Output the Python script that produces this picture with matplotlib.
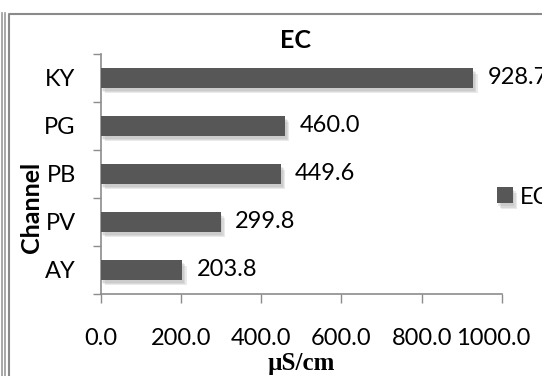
import matplotlib.pyplot as plt
import matplotlib.patheffects as pe
import matplotlib.transforms as mtransforms
from matplotlib.lines import Line2D
import numpy as np

plt.rcParams['font.family'] = ['Lato', 'DejaVu Sans']

channels = ['AY', 'PV', 'PB', 'PG', 'KY']
ec = [203.8, 299.8, 449.6, 460.0, 928.7]
xticks = [0, 200, 400, 600, 800, 1000]

W, H = 542, 376
fig = plt.figure(figsize=(W / 100, H / 100), dpi=100)
ax = fig.add_axes([100.7 / W, 1 - 294 / H, (502 - 100.7) / W, (294 - 54) / H])

y = np.arange(len(channels))
bars = ax.barh(y, ec, height=0.41, color='#575757', zorder=3)
# soft drop shadow under each bar
shadow = [pe.SimplePatchShadow(offset=(d, -d - 1), shadow_rgbFace='#a0a0a0', alpha=0.22)
          for d in (3, 2, 1)]
for b in bars:
    b.set_path_effects(shadow + [pe.Normal()])

for yi, v in zip(y, ec):
    ax.annotate(f'{v:.1f}', (v, yi), xytext=(14, 0), textcoords='offset pixels',
                ha='left', va='center', fontsize=17, color='black', annotation_clip=False)

ax.set_xlim(0, 1000)
ax.set_ylim(-0.5, len(channels) - 0.5)

ax.set_xticks(xticks)
ax.set_xticklabels([f'{t:.1f}' for t in xticks], fontsize=17)
ax.tick_params(axis='x', direction='out', length=6.5, width=1, color='#8c8c8c', pad=18)
# last label sits a little inside the plot edge
last = ax.get_xticklabels()[-1]
last.set_transform(last.get_transform() + mtransforms.ScaledTranslation(-9 / 100, 0, fig.dpi_scale_trans))

# boundary ticks on the category axis, labels in between
ax.set_yticks(np.arange(-0.5, len(channels), 1.0))
ax.set_yticklabels([])
ax.set_yticks(y, minor=True)
ax.set_yticklabels(channels, minor=True, fontsize=17)
ax.tick_params(axis='y', which='major', direction='out', length=6, width=1, color='#8c8c8c')
ax.tick_params(axis='y', which='minor', length=0, pad=18)

for s in ['top', 'right']:
    ax.spines[s].set_visible(False)
for s in ['left', 'bottom']:
    ax.spines[s].set_color('#8c8c8c')
    ax.spines[s].set_linewidth(1.2)

ax.set_xlabel('µS/cm', fontsize=18, fontweight='bold', family='Liberation Serif', labelpad=2)
fig.text(32 / W, 1 - 207 / H, 'Channel', rotation=90, ha='center', va='center',
         fontsize=18, fontweight='bold')
fig.text(296 / W, 1 - 40 / H, 'EC', ha='center', va='center', fontsize=18, fontweight='bold')

fig.legend(handles=[bars[0]], labels=['EC'], loc='center left',
           bbox_to_anchor=(497 / W, 1 - 197 / H), frameon=False, fontsize=17,
           handlelength=0.68, handleheight=0.68, handletextpad=0.3, borderpad=0,
           borderaxespad=0)

# chart border lines
def px_line(xs, ys, **kw):
    fig.add_artist(Line2D([x / W for x in xs], [1 - v / H for v in ys],
                          transform=fig.transFigure, **kw))

px_line([1.5, 1.5], [13, H], color='#9a9a9a', lw=1.2)
px_line([4.5, 4.5], [13, H], color='#9a9a9a', lw=1.2)
px_line([8.5, 8.5, W], [H, 14, 14], color='#8a8a8a', lw=1.5)

fig.savefig('out.png', dpi=100)
